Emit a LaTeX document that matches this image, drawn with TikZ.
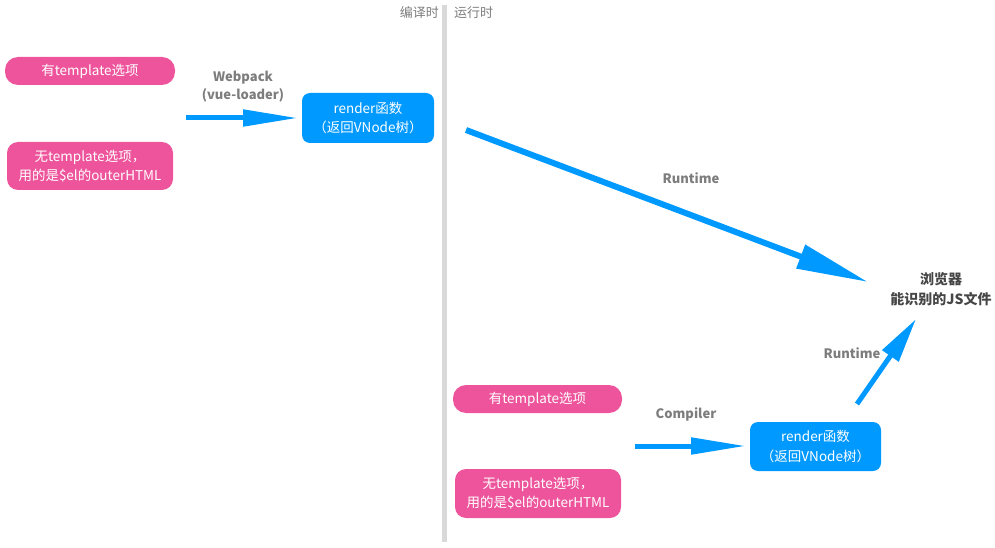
\documentclass[tikz,border=0pt]{standalone}
\usepackage{fontspec}
\setmainfont{Noto Sans CJK SC}
\usetikzlibrary{positioning}
\usetikzlibrary{arrows.meta}
\definecolor{pillpink}{RGB}{237,84,155}
\definecolor{boxblue}{RGB}{0,153,255}
\definecolor{labelgray}{RGB}{125,125,125}
\definecolor{textgray}{RGB}{70,70,70}

\begin{document}
\begin{tikzpicture}
	[	x=1pt, y=-1pt,
		pill/.style={rectangle,rounded corners=13pt,fill=pillpink,text=white,align=center,
			inner sep=0pt,font=\fontsize{13.5}{19}\selectfont},
		render/.style={rectangle,rounded corners=8pt,fill=boxblue,text=white,align=center,
			inner sep=0pt,minimum width=132pt,minimum height=50pt,font=\fontsize{13.5}{19.5}\selectfont},
		lbl/.style={text=labelgray,align=center,font=\bfseries\fontsize{13}{18}\selectfont},
		side/.style={text=labelgray,font=\fontsize{13}{15}\selectfont,inner sep=0pt},
		vec/.style={draw=boxblue,line width=5pt,-{Triangle[length=55pt,width=16pt]}}	]
	\useasboundingbox (0,0) rectangle (995,548);
	% divider
	\coordinate (divtop) at (444,5);
	\coordinate (divbot) at (444,542);
	\draw[line width=5pt,gray!30] (divtop) -- (divbot);
	\node[side] (compile) [anchor=east] at (439,13) {编译时};
	\node[side] (runtime) [anchor=west] at (454,13) {运行时};
	% compile-time side
	\node[pill,minimum width=170pt,minimum height=28pt] (tpl1) at (90,71) {有template选项};
	\node[pill,minimum width=166pt,minimum height=48pt,rounded corners=11pt] (notpl1) at (90,166)
		{无template选项，\\用的是\$el的outerHTML};
	\node[render] (render1) at (368,118) {render函数\\（返回VNode树）};
	\coordinate (a1s) at (186,118);
	\coordinate (a1e) at (298,118);
	\draw[vec] (a1s) -- (a1e);
	\node[lbl] (webpack) at (243,87) {Webpack\\(vue-loader)};
	% browser
	\node[text=textgray,align=center,font=\bfseries\fontsize{14}{20}\selectfont] (browser) at (941,289)
		{浏览器\\能识别的JS文件};
	\coordinate (a2s) at (466,130);
	\coordinate (a2e) at (868,282);
	\draw[vec,line width=6pt,-{Triangle[length=72pt,width=24pt]}] (a2s) -- (a2e);
	\node[lbl] (rt1) at (691,178) {Runtime};
	% run-time side
	\node[pill,minimum width=169pt,minimum height=28pt] (tpl2) at (537.5,399) {有template选项};
	\node[pill,minimum width=166pt,minimum height=49pt,rounded corners=11pt] (notpl2) at (538,493.5)
		{无template选项，\\用的是\$el的outerHTML};
	\node[render,minimum width=131pt,minimum height=49pt] (render2) at (815.5,446.5) {render函数\\（返回VNode树）};
	\coordinate (a3s) at (635,446);
	\coordinate (a3e) at (746,446);
	\draw[vec] (a3s) -- (a3e);
	\node[lbl] (compiler) at (686,414) {Compiler};
	\coordinate (a4s) at (857,404);
	\coordinate (a4e) at (916,319);
	\draw[vec,-{Triangle[length=45pt,width=19pt]}] (a4s) -- (a4e);
	\node[lbl] (rt2) at (852,353) {Runtime};
\end{tikzpicture}
\end{document}
